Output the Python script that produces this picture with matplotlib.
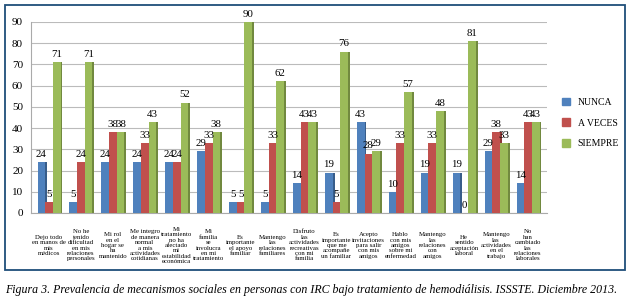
import matplotlib.pyplot as plt
import numpy as np
from matplotlib.patches import Rectangle, Patch

categories = [
    "Dejo todo\nen manos de\nmis\nmédicos",
    "No he\ntenido\ndificultad\nen mis\nrelaciones\npersonales",
    "Mi rol\nen el\nhogar se\nha\nmantenido",
    "Me integro\nde manera\nnormal\na mis\nactividades\ncotidianas",
    "Mi\ntratamiento\nno ha\nafectado\nmi\nestabilidad\neconómica",
    "Mi\nfamilia\nse\ninvolucra\nen mi\ntratamiento",
    "Es\nimportante\nel apoyo\nfamiliar",
    "Mantengo\nlas\nrelaciones\nfamiliares",
    "Disfruto\nlas\nactividades\nrecreativas\ncon mi\nfamilia",
    "Es\nimportante\nque me\nacompañe\nun familiar",
    "Acepto\ninvitaciones\npara salir\ncon mis\namigos",
    "Hablo\ncon mis\namigos\nsobre mi\nenfermedad",
    "Mantengo\nlas\nrelaciones\ncon\namigos",
    "He\nsentido\naceptación\nlaboral",
    "Mantengo\nlas\nactividades\nen el\ntrabajo",
    "No\nhan\ncambiado\nlas\nrelaciones\nlaborales",
]
nunca = [24, 5, 24, 24, 24, 29, 5, 5, 14, 19, 43, 10, 19, 19, 29, 14]
a_veces = [5, 24, 38, 33, 24, 33, 5, 33, 43, 5, 28, 33, 33, 0, 38, 43]
siempre = [71, 71, 38, 43, 52, 38, 90, 62, 43, 76, 29, 57, 48, 81, 33, 43]

series = [("NUNCA", nunca, "#4F81BD", "#385D8A"),
          ("A VECES", a_veces, "#C0504D", "#8C3836"),
          ("SIEMPRE", siempre, "#9BBB59", "#71893F")]

plt.rcParams['font.family'] = ['Liberation Serif', 'DejaVu Serif']

fig = plt.figure(figsize=(6.29, 3.0), dpi=100)
ax = fig.add_axes([0.05, 0.29, 0.82, 0.637])

x = np.arange(len(categories))
w = 0.24
for i, (name, vals, col, dark) in enumerate(series):
    pos = x + (i - 1) * w
    # darker side face for the 3D look
    ax.bar(pos + 0.06, vals, width=w, color=dark, zorder=2)
    ax.bar(pos, vals, width=w, color=col, zorder=3)
    for p, v in zip(pos, vals):
        ax.text(p, v + 1.5, str(v), ha='center', va='bottom', fontsize=7.8, zorder=4)

ax.set_ylim(0, 90)
ax.set_xlim(-0.55, len(categories) - 0.4)
ax.set_yticks(range(0, 91, 10))
ax.tick_params(axis='y', length=0, labelsize=8, pad=6)
ax.set_xticks([])
ax.grid(axis='y', color='#BBBBBB', linewidth=0.8, zorder=0)
for s in ['top', 'right']:
    ax.spines[s].set_visible(False)
ax.spines['left'].set_color('#AAAAAA')
ax.spines['bottom'].set_color('#AAAAAA')

for xi, lab in zip(x, categories):
    ax.text(xi, -0.17, lab, transform=ax.get_xaxis_transform(), ha='center', va='center',
            fontsize=4.9, linespacing=1.1)

handles = [Patch(color=c) for _, _, c, _ in series]
fig.legend(handles, [s[0] for s in series], loc='center left', bbox_to_anchor=(0.88, 0.59),
           frameon=False, fontsize=7, handlelength=0.8, handleheight=0.8, labelspacing=1.2,
           handletextpad=0.8)

fig.patches.append(Rectangle((5 / 629, 30 / 300), 620 / 629, 265 / 300, transform=fig.transFigure,
                             fill=False, edgecolor='#1F4E79', linewidth=1.3))

fig.text(5 / 629, 10 / 300,
         "Figura 3. Prevalencia de mecanismos sociales en personas con IRC bajo tratamiento de hemodiálisis. ISSSTE. Diciembre 2013.",
         fontsize=8.6, style='italic', va='center', ha='left')

fig.savefig("out.png", dpi=100)
